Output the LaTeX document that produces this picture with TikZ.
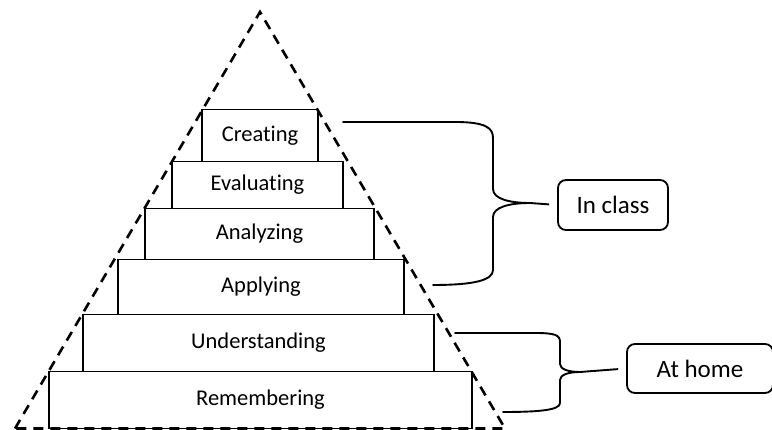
\documentclass[tikz,border=0pt]{standalone}
\usepackage{fontspec}
\setmainfont{Carlito}[Ligatures=NoCommon]
\usetikzlibrary{positioning}
\tikzstyle{level} = [rectangle, draw=black, line width=1.9pt, outer sep=0pt, inner sep=0pt, text centered, font=\fontsize{22.5}{26}\selectfont]
\tikzstyle{group} = [rectangle, rounded corners=8pt, draw=black, line width=1.8pt, inner sep=0pt, text centered, font=\fontsize{25}{29}\selectfont]
\tikzstyle{outline} = [line width=2.6pt, dash pattern=on 10pt off 7pt]
\tikzstyle{brace} = [line width=1.9pt, line cap=round]
\tikzstyle{link} = [line width=1.9pt, shorten >=8pt]

\begin{document}
\begin{tikzpicture}[x=1pt, y=1pt]
	\useasboundingbox (0,0) rectangle (772,430);
	\node (n0) [level, minimum width=423pt, minimum height=57pt] at (260.5,30) {Remembering};
	\node (n1) [level, above=0pt of n0, minimum width=351pt, minimum height=57pt, xshift=-2pt] {Understanding};
	\node (n2) [level, above=0pt of n1, minimum width=286pt, minimum height=55pt, xshift=2.5pt] {Applying};
	\node (n3) [level, above=0pt of n2, minimum width=229pt, minimum height=51pt, xshift=-1.5pt] {Analyzing};
	\node (n4) [level, above=0pt of n3, minimum width=171pt, minimum height=47pt, xshift=-2pt] {Evaluating};
	\node (n5) [level, above=0pt of n4, minimum width=116pt, minimum height=52pt, xshift=2.5pt] {Creating};
	\node (c0) [group, minimum width=110pt, minimum height=50pt] at (613,225) {In class};
	\node (c1) [group, minimum width=146pt, minimum height=49pt] at (700,61.5) {At home};
	
	\draw [outline] (15,1.5) -- (260,418) -- (505,1.5) -- cycle;
	
	\draw [brace] (343,308) -- (455,308) .. controls (486,308) and (493,302) .. (493,292) -- (493,241) .. controls (493,231) and (510,227) .. (530,227) coordinate (b0) .. controls (510,227) and (493,223) .. (493,213) -- (493,160) .. controls (493,150) and (475,145) .. (433,145);
	\draw [link] (b0) -- (c0.west);
	
	\draw [brace] (455,97) -- (535,97) .. controls (555,97) and (560,95) .. (560,88) -- (560,66) .. controls (560,61) and (568,58) .. (580,58) coordinate (b1) .. controls (568,58) and (560,55) .. (560,50) -- (560,27) .. controls (560,20) and (540,18) .. (503,18);
	\draw [link] (b1) -- (c1.west);
\end{tikzpicture}
\end{document}
